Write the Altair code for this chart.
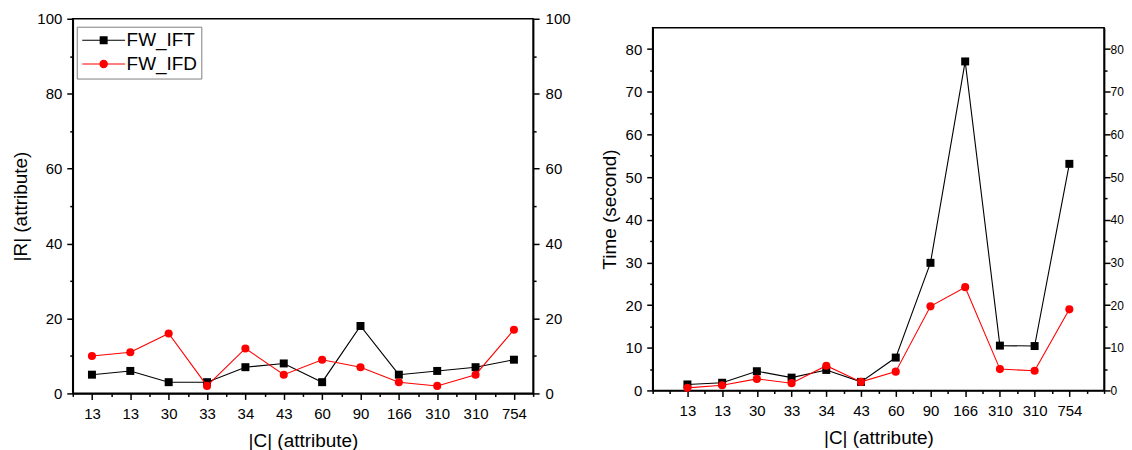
import json
import altair as alt
import pandas as pd

# ---------------- data ----------------
categories = ["13", "13", "30", "33", "34", "43", "60", "90", "166", "310", "310", "754"]
series = ["FW_IFT", "FW_IFD"]
colors = ["#000000", "#ff0000"]

r_ift = [5, 6, 3, 3, 7, 8, 3, 18, 5, 6, 7, 9]
r_ifd = [10, 11, 16, 2, 12, 5, 9, 7, 3, 2, 5, 17]

t_ift = [1.4, 1.8, 4.5, 3.0, 4.8, 2.0, 7.7, 29.9, 77.1, 10.5, 10.4, 53.1]
t_ifd = [0.6, 1.2, 2.7, 1.7, 5.8, 2.0, 4.4, 19.7, 24.2, 5.0, 4.6, 19.0]

left_y_ticks = list(range(0, 101, 10))
right_y_ticks = list(range(0, 81, 5))

FONT = "Liberation Sans"

# legend symbols (units of sqrt(symbolSize)/2 = 5px): a 43px line with a marker in its middle
SQ_PATH = "M-1.6,-0.1H7V0.1H-1.6Z M1.9,-0.8H3.5V0.8H1.9Z"
CI_PATH = ("M-1.6,-0.1H7V0.1H-1.6Z "
           "M3.55,0A0.85,0.85 0 1,1 1.85,0A0.85,0.85 0 1,1 3.55,0Z")


def make_df(v_ift, v_ifd):
    rows = []
    for s, vals in zip(series, [v_ift, v_ifd]):
        for i, (c, v) in enumerate(zip(categories, vals)):
            rows.append({"idx": i, "cat": c, "series": s, "value": v})
    return pd.DataFrame(rows)


def panel(v_ift, v_ifd, pos_offset, xmax, x_major_test, y_max, y_values,
          y_major_test, y_title, width, height, legend_x, legend_y,
          right_label_size=15, right_label_pad=6):
    df = make_df(v_ift, v_ifd)
    base = alt.Chart(df).transform_calculate(pos=f"datum.idx + {pos_offset}")

    cats_js = json.dumps(categories)
    x_values = [i * 0.5 for i in range(int(xmax * 2) + 1)]
    x_axis = alt.Axis(
        values=x_values,
        labelExpr=f"({x_major_test}) ? {cats_js}[round(datum.value - {pos_offset})] : ''",
        tickSize={"condition": {"test": x_major_test, "value": 6}, "value": 3},
        title="|C| (attribute)",
        titleFontSize=19,
        labelPadding=7,
        titlePadding=10,
        labelFlush=False,
        labelOverlap=False,
    )
    x = alt.X("pos:Q", scale=alt.Scale(domain=[0, xmax], nice=False, zero=False), axis=x_axis)

    def y(axis):
        return alt.Y("value:Q", scale=alt.Scale(domain=[0, y_max], nice=False, zero=True), axis=axis)

    tick_cond = {"condition": {"test": y_major_test, "value": 6}, "value": 3}
    left_axis = alt.Axis(orient="left", values=y_values,
                         labelExpr=f"({y_major_test}) ? datum.label : ''",
                         tickSize=tick_cond, title=y_title, titlePadding=6,
                         labelPadding=5, labelFlush=False, labelOverlap=False)
    right_axis = alt.Axis(orient="right", values=y_values,
                          labelExpr=f"({y_major_test}) ? datum.label : ''",
                          tickSize=tick_cond, title=None,
                          labelFontSize=right_label_size,
                          labelPadding=right_label_pad, labelFlush=False, labelOverlap=False)

    ift = base.transform_filter(alt.datum.series == series[0])
    ifd = base.transform_filter(alt.datum.series == series[1])

    l1 = ift.mark_line(color=colors[0], strokeWidth=1.1).encode(x=x, y=y(left_axis))
    l2 = ift.mark_point(shape="square", filled=True, size=64, color=colors[0],
                        opacity=1).encode(x=x, y=y(right_axis))
    l3 = ifd.mark_line(color=colors[1], strokeWidth=1.1).encode(x=x, y=y(None))
    l4 = ifd.mark_point(shape="circle", filled=True, size=66, color=colors[1],
                        opacity=1).encode(x=x, y=y(None))

    leg = alt.Legend(
        title=None, orient="none", legendX=legend_x, legendY=legend_y,
        padding=4, strokeColor="#808080", fillColor="white",
        symbolSize=100, symbolStrokeWidth=0, symbolOpacity=1,
        labelFont=FONT, labelFontSize=19, labelColor="black",
        labelOffset=27, rowPadding=4,
    )
    l5 = base.mark_point(filled=True, opacity=0, size=10).encode(
        x=x, y=y(None),
        color=alt.Color("series:N", scale=alt.Scale(domain=series, range=colors), legend=leg),
        shape=alt.Shape("series:N", scale=alt.Scale(domain=series, range=[SQ_PATH, CI_PATH]),
                        legend=leg),
    )

    return alt.layer(l1, l2, l3, l4, l5).resolve_scale(y="independent").properties(
        width=width, height=height)


left = panel(r_ift, r_ifd, 0.5, 12, "datum.value % 1 == 0.5", 100, left_y_ticks,
             "datum.value % 20 == 0", "|R| (attribute)", 462, 376, 4, 8)

# the right-most tick labels are made a little smaller so that they stay inside the window
right = panel(t_ift, t_ifd, 1, 13, "datum.value % 1 == 0 && datum.value >= 1 && datum.value <= 12",
              85, right_y_ticks, "datum.value % 10 == 0", "Time (second)", 453, 364, 5, 3,
              right_label_size=12, right_label_pad=0)

# empty strip that pushes the right panel's frame a few pixels lower than the left one
spacer = alt.Chart(pd.DataFrame({"a": [0]})).mark_point(opacity=0).properties(
    width=1, height=7, view=alt.ViewBackground(stroke="transparent"))

chart = alt.hconcat(left, alt.vconcat(spacer, right, spacing=0), spacing=28).properties(
    padding={"left": 3, "top": 2, "right": -1, "bottom": 0}
).configure_view(
    stroke="black", strokeWidth=1.6
).configure_axis(
    grid=False, domainColor="black", domainWidth=1.6, tickColor="black", tickWidth=1.5,
    labelFont=FONT, labelFontSize=15, labelColor="black",
    titleFont=FONT, titleFontSize=19, titleFontWeight="normal", titleColor="black",
)

chart.save("out.html", embed_options={"renderer": "svg", "actions": False})
